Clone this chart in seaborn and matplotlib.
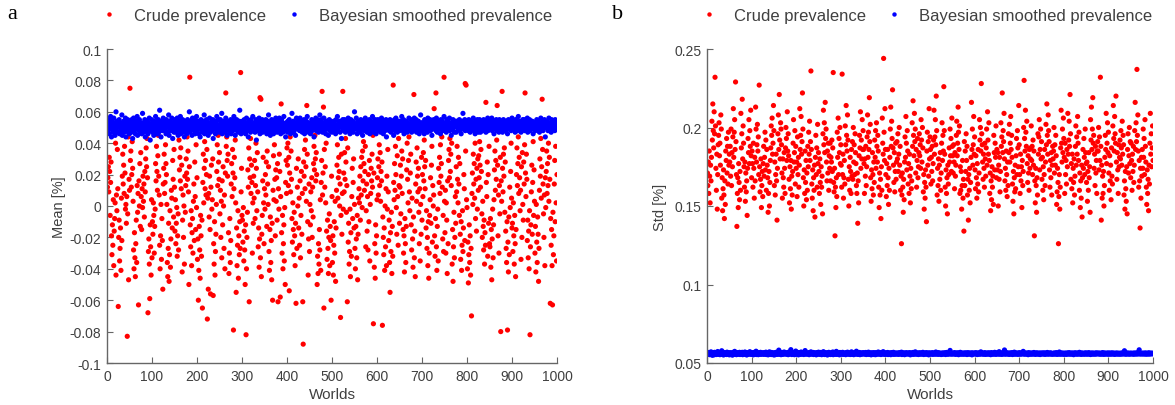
import numpy as np
import pandas as pd
import seaborn as sns
import matplotlib.pyplot as plt

# values (estimated), one per world
# crude mean, in units of 0.001 %
crude_mean = [
    12, 18, 25, 9, 31, 22, -6, 15, 28, -19, -31, -12, -25, 4, -38, -16, -8, 2, 40, -44, 7, -3, 36, 11, -64,
    -20, -9, -35, -27, -14, -41, 5, -22, 19, 33, 14, 26, 8, 38, 21, -2, 1, -11, 6, -83, -5, 44, -47, 17, 10,
    75, 29, 35, 12, 20, 41, 24, 3, -28, -40, -17, -33, -45, -24, -9, -36, 13, -4, 8, -63, 16, 0, 27, -13, 34,
    6, -15, 11, -1, 19, 3, 14, -7, 22, 9, 30, 37, 25, 43, 18, -68, -29, -21, -37, -59, -12, -26, -44, 4, -33,
    -10, -18, 2, -6, -30, -13, -2, 27, 16, 38, 22, 10, 32, 45, 19, 7, -25, -40, -19, 1, -34, -8, -22, -53, 14,
    24, 33, 8, 15, 39, 27, 20, 1, -36, -45, -27, -11, -48, -31, -3, -39, -21, 10, 5, -14, 29, 17, -7, 36, 12,
    -16, 4, -24, -11, -1, -32, -19, -5, -28, 42, 23, 31, 16, 37, 11, 26, -42, -9, 7, -20, 0, -37, 19, -4, 13,
    30, 21, 44, 17, 35, 9, -50, 25, 82, -12, -26, -3, -38, -17, -8, -30, 3, 14, -22, 28, 6, -15, 39, -1, 18,
    -34, -21, -60, -41, -13, -28, -46, -6, -19, -32, -9, -65, 15, 33, 2, 24, 41, 11, 29, 7, 20, 36, -72, 5, -53,
    8, -7, 19, -15, -56, 12, 26, -2, 4, 30, -57, -24, -37, -10, -44, -29, -18, 1, 22, 39, 13, 45, 28, 17, 34,
    -5, 10, -20, 3, -33, 16, -12, 25, 0, -27, 7, -40, 21, 72, 38, 44, 29, 19, 33, -17, -43, -30, -8, -36, -22,
    14, 27, 6, 36, 21, -79, 11, 31, 18, 42, 2, -55, -14, -38, -25, -3, -46, -19, -31, -10, -27, 85, 9, 24, -6,
    -9, -23, -1, -35, -16, -28, -50, -12, -82, -40, -20, -4, 23, 12, 37, -61, 30, 18, 43, 8, 26, 15, -30, 2, -11,
    19, 5, 29, -8, 13, 40, 24, -3, 34, 9, -26, -14, -39, -21, 69, -33, 68, -45, -18, -6, 16, 31, 2, -24, 11,
    -2, 20, 7, 28, -13, 35, 14, 1, 25, -29, -41, -15, -7, -36, -22, -47, -11, -60, 10, 32, 4, 39, 17, -19, 23,
    3, 18, -9, 27, -61, 11, -2, 33, 22, -58, 6, 65, -17, -30, -6, -40, -24, -12, -35, -1, -50, 15, 29, 8, 37,
    26, 40, 13, 31, -54, 21, 44, 9, 35, 17, -8, -23, 2, -15, -31, -4, -19, -38, -11, -62, 24, -27, 12, 0, 30,
    -14, 5, -25, 16, -33, -6, 22, -18, 8, -61, -88, 28, 19, 36, 11, 42, 25, 3, 64, 33, -10, -44, -21, 14, -29,
    1, -12, 9, -3, 18, -20, 12, -7, 27, 38, 23, 45, 30, 16, 34, 20, -50, -32, -43, -24, -37, -15, -28, 4, -41,
    15, 29, 73, 7, 21, 63, -65, 36, 12, 25, 2, 40, -16, -34, -9, -27, -43, -20, -5, -38, -13, -22, -60, 19, 6,
    -36, -19, -44, -25, -10, -30, 3, -48, -14, 10, 26, 39, 5, 18, 31, 22, 0, 14, -71, -6, 33, -18, 8, 73, -2,
    21, 9, 34, 17, 43, 28, -4, 13, -61, 37, -23, -11, -37, -29, -2, -45, -17, -32, 6, 24, -8, 15, 30, -14, 1,
    -27, -40, -13, -21, -33, -6, -47, -18, 5, 11, 2, 19, -9, 25, 7, 31, -1, 35, 16, 41, 27, 10, 22, 38, -26,
    -3, 14, -16, 6, -28, 20, -10, 29, -35, 1, 8, 24, 16, 33, 12, 45, -75, 21, -39, -24, -46, -12, -30, -19, 4,
    18, 30, 7, 25, 39, 13, 34, 3, 22, 16, 28, -76, -7, -20, -31, -14, -41, 0, -26, 11, -38, 19, -2, 36, 9,
    -22, -9, -36, -55, -17, -29, -4, -43, -13, -32, 77, 15, 4, 27, 10, 38, 20, -1, -18, 32, 6, -25, 43, 13, -11,
    12, 26, -5, 19, 35, 8, 30, -15, -30, -19, -42, -8, -24, -36, -13, 23, 40, 17, 2, 29, 44, 9, -3, 21, 33,
    -12, -28, 5, -21, -39, -7, 71, -33, -16, -45, 14, 28, 3, 37, 19, 9, 24, -4, -24, 11, -35, 1, -18, 31, -9,
    20, 6, 34, 16, 42, 25, 11, 29, -14, -3, -27, -20, -38, -10, -46, -30, -6, 4, 18, -11, 26, 38, -23, 13, 0,
    7, 62, -19, -32, -8, 72, -26, -41, -13, -2, -35, 24, 15, 31, 8, 39, 19, 27, 44, 12, -21, -6, -29, 82, 3,
    -17, 10, -30, 2, -9, -43, 16, -24, 29, 36, 18, 43, 22, 33, 13, 40, -37, -15, -48, -26, -4, -33, -20, 6, -11,
    25, 9, 38, 17, 2, 31, 14, -6, 27, -18, -34, -10, -41, -25, -3, -29, -14, 20, 11, -22, 78, 35, 77, 4, -1,
    -40, -23, -49, -31, -12, -36, -19, -44, -27, -70, 8, 21, 1, 33, 14, 27, 5, 40, -8, 17, -16, 24, -2, 30, 10,
    32, 18, 41, 26, 12, 36, 22, -5, -20, 3, -13, -28, -9, -37, -17, -25, 66, 15, 6, 28, -32, 20, -11, 38, -24,
    -26, -8, -39, -15, -47, -21, -2, -33, -12, 4, 23, 35, 10, 29, 17, 42, 64, 26, -19, 7, -30, 13, -5, 31, -80,
    16, 3, 73, 24, 9, 33, 19, 37, -4, 28, -16, -27, -36, -10, -79, -23, -42, -7, -31, 12, -1, 22, 40, 5, -14,
    -11, -29, 2, -19, -37, -6, -24, -45, -15, 20, 37, 13, 27, 44, 8, 31, 18, -3, 10, -34, 25, -20, 34, 1, -9,
    28, 14, 39, 72, 21, 6, 33, 17, -22, -9, -33, -16, -40, -3, -82, -26, -12, 9, 26, -18, 15, 41, -6, 23, 3,
    -30, -13, -42, 1, -23, -36, -7, -18, -48, -27, 10, 30, 19, 43, 5, 25, 68, 36, 14, -5, -20, 7, -38, 18, -1,
    22, 35, 8, 27, 13, 40, 3, 31, 17, -62, -8, -25, -15, -38, -63, -4, -31, -19, 14, 29, -10, 38, 2, -35, 20,
]

# Bayesian smoothed mean, in units of 0.001 %
bayes_mean = [
    52, 48, 55, 50, 46, 53, 51, 57, 49, 44, 54, 50, 47, 52, 56, 49, 53, 45, 51, 60, 48, 54, 50, 47, 53,
    51, 55, 46, 50, 53, 48, 52, 58, 45, 51, 49, 54, 47, 52, 50, 56, 44, 53, 49, 51, 55, 47, 50, 52, 46,
    54, 49, 51, 47, 55, 50, 43, 52, 56, 48, 53, 51, 46, 50, 54, 49, 57, 45, 52, 50, 48, 55, 51, 47, 53,
    50, 46, 52, 59, 49, 53, 47, 51, 55, 44, 50, 52, 48, 54, 51, 46, 53, 49, 56, 50, 42, 52, 48, 55, 51,
    47, 53, 50, 45, 54, 52, 49, 57, 48, 51, 53, 46, 50, 55, 47, 52, 61, 49, 51, 44, 54, 50, 48, 53, 56,
    49, 51, 54, 48, 52, 46, 55, 50, 53, 47, 51, 58, 45, 52, 49, 54, 50, 48, 56, 51, 43, 53, 50, 47, 52,
    55, 50, 47, 53, 49, 56, 51, 45, 52, 54, 48, 50, 57, 46, 53, 51, 49, 55, 47, 52, 50, 44, 54, 51, 48,
    52, 46, 50, 55, 51, 48, 53, 60, 47, 50, 54, 49, 52, 45, 56, 50, 53, 48, 51, 55, 46, 52, 49, 57, 50,
    48, 54, 51, 46, 53, 50, 44, 52, 55, 49, 51, 47, 54, 50, 52, 58, 46, 53, 49, 51, 55, 48, 50, 53, 45,
    53, 49, 56, 51, 47, 52, 50, 54, 48, 55, 43, 51, 53, 49, 50, 46, 54, 52, 57, 48, 51, 50, 55, 47, 52,
    50, 55, 48, 52, 59, 46, 51, 53, 49, 50, 54, 47, 52, 56, 48, 51, 45, 53, 50, 49, 54, 52, 47, 51, 55,
    46, 52, 50, 54, 48, 51, 57, 49, 53, 45, 52, 50, 55, 48, 51, 53, 47, 50, 54, 61, 49, 52, 46, 53, 50,
    54, 47, 52, 49, 55, 50, 53, 46, 51, 56, 48, 52, 50, 44, 54, 51, 49, 53, 47, 55, 50, 52, 48, 57, 51,
    49, 53, 51, 47, 50, 55, 42, 52, 48, 54, 51, 49, 56, 50, 46, 53, 51, 48, 52, 55, 47, 50, 54, 49, 53,
    51, 48, 55, 52, 46, 50, 54, 49, 58, 47, 53, 51, 45, 52, 50, 55, 48, 53, 51, 46, 54, 50, 52, 48, 56,
    52, 50, 47, 54, 51, 49, 53, 56, 48, 51, 46, 52, 55, 50, 53, 47, 51, 57, 49, 52, 50, 44, 53, 51, 48,
    47, 54, 50, 52, 55, 48, 51, 46, 53, 50, 59, 49, 52, 54, 47, 51, 50, 53, 45, 52, 56, 49, 51, 54, 50,
    53, 51, 48, 56, 49, 52, 50, 54, 47, 53, 51, 49, 55, 46, 52, 50, 48, 54, 51, 57, 49, 53, 47, 50, 52,
    50, 46, 53, 51, 55, 48, 52, 49, 54, 44, 51, 53, 50, 56, 48, 52, 49, 55, 51, 47, 53, 50, 58, 48, 51,
    55, 49, 51, 47, 53, 50, 56, 48, 52, 51, 46, 54, 49, 53, 50, 52, 45, 51, 55, 48, 50, 54, 52, 49, 47,
    51, 53, 49, 54, 48, 52, 50, 46, 55, 51, 49, 57, 52, 48, 53, 50, 54, 47, 51, 52, 43, 53, 50, 55, 49,
    48, 52, 55, 50, 47, 53, 51, 54, 49, 52, 56, 48, 50, 53, 46, 51, 55, 49, 52, 50, 54, 47, 53, 51, 60,
    52, 49, 51, 56, 50, 46, 54, 52, 48, 51, 53, 50, 47, 55, 51, 49, 53, 45, 50, 54, 52, 48, 51, 56, 50,
    54, 50, 47, 52, 53, 49, 51, 55, 46, 50, 52, 54, 48, 51, 57, 50, 47, 53, 49, 52, 55, 51, 46, 53, 49,
    49, 55, 52, 48, 51, 54, 50, 47, 53, 56, 49, 51, 52, 46, 54, 50, 53, 48, 51, 55, 44, 52, 50, 54, 51,
    53, 48, 50, 55, 52, 47, 51, 53, 49, 54, 50, 45, 52, 55, 48, 51, 56, 50, 53, 47, 51, 49, 54, 52, 48,
    50, 54, 51, 49, 57, 52, 48, 50, 55, 46, 53, 51, 49, 52, 54, 50, 47, 53, 51, 48, 56, 50, 52, 49, 55,
    52, 47, 54, 51, 50, 53, 49, 56, 48, 52, 51, 55, 47, 50, 53, 49, 54, 51, 46, 52, 50, 58, 48, 53, 51,
    48, 53, 50, 52, 46, 55, 51, 49, 54, 50, 52, 47, 56, 51, 49, 53, 50, 55, 48, 52, 51, 45, 54, 50, 53,
    55, 51, 49, 53, 50, 48, 56, 52, 47, 51, 54, 50, 53, 49, 52, 46, 55, 51, 50, 54, 48, 52, 50, 57, 49,
    51, 49, 53, 47, 55, 52, 50, 54, 49, 51, 56, 48, 52, 50, 45, 53, 51, 49, 55, 52, 50, 47, 54, 51, 53,
    47, 54, 52, 50, 53, 49, 51, 55, 48, 52, 50, 46, 54, 51, 53, 59, 49, 52, 50, 55, 48, 51, 53, 49, 52,
    53, 50, 48, 55, 51, 52, 47, 53, 50, 54, 49, 52, 51, 56, 48, 50, 53, 46, 52, 54, 51, 49, 55, 50, 47,
    50, 52, 55, 49, 47, 53, 51, 50, 54, 48, 52, 55, 50, 49, 53, 51, 47, 54, 52, 50, 56, 48, 51, 53, 49,
    54, 49, 51, 52, 56, 48, 50, 53, 51, 46, 54, 50, 52, 49, 55, 51, 48, 53, 50, 52, 47, 55, 51, 49, 54,
    49, 53, 50, 47, 52, 55, 51, 49, 53, 50, 48, 54, 51, 52, 46, 50, 55, 49, 53, 51, 54, 50, 48, 52, 56,
    52, 50, 54, 51, 49, 53, 47, 55, 50, 52, 51, 48, 53, 57, 49, 51, 54, 50, 52, 47, 53, 51, 49, 55, 50,
    51, 55, 48, 52, 50, 54, 51, 49, 56, 47, 53, 50, 52, 55, 48, 51, 53, 49, 50, 54, 52, 46, 51, 53, 50,
    53, 48, 52, 50, 55, 51, 49, 54, 52, 50, 47, 53, 51, 56, 49, 52, 50, 54, 48, 53, 51, 55, 50, 44, 52,
    50, 54, 51, 53, 48, 52, 56, 50, 49, 53, 51, 47, 55, 52, 50, 54, 49, 51, 53, 48, 55, 52, 50, 54, 51,
]

# crude std, in units of 0.001 %
crude_std = [
    171, 163, 178, 158, 185, 169, 152, 176, 166, 181, 204, 192, 215, 198, 187, 210, 196, 232, 201, 174, 160, 183, 148, 170, 189,
    195, 203, 182, 190, 176, 208, 199, 155, 168, 147, 161, 173, 157, 142, 166, 151, 185, 179, 193, 171, 188, 164, 197, 176, 183,
    178, 188, 169, 199, 163, 184, 175, 194, 212, 181, 197, 205, 186, 229, 191, 170, 137, 158, 168, 149, 177, 165, 154, 172, 160,
    209, 187, 196, 218, 180, 201, 190, 175, 162, 178, 153, 171, 159, 166, 144, 174, 193, 184, 205, 177, 198, 188, 211, 182, 168,
    185, 177, 162, 190, 174, 155, 181, 166, 213, 199, 178, 189, 202, 185, 194, 170, 227, 175, 159, 167, 180, 149, 163, 172, 156,
    177, 188, 169, 181, 197, 173, 192, 160, 186, 176, 168, 146, 158, 172, 150, 165, 179, 187, 201, 195, 206, 183, 190, 214, 198,
    163, 178, 157, 170, 183, 166, 141, 174, 196, 208, 186, 221, 192, 180, 203, 199, 189, 171, 155, 180, 168, 162, 184, 174, 158,
    187, 200, 193, 179, 210, 185, 196, 182, 167, 152, 175, 161, 179, 148, 169, 157, 172, 190, 205, 178, 184, 198, 164, 188, 174,
    178, 156, 194, 170, 181, 162, 176, 212, 186, 195, 207, 183, 191, 222, 199, 168, 150, 173, 158, 185, 165, 179, 154, 171, 160,
    188, 175, 197, 183, 204, 179, 191, 236, 186, 164, 155, 173, 147, 168, 160, 176, 143, 181, 195, 170, 187, 162, 202, 177, 184,
    172, 158, 180, 165, 151, 175, 162, 169, 145, 196, 211, 189, 203, 184, 216, 193, 199, 178, 166, 185, 171, 190, 160, 182, 174,
    190, 166, 181, 178, 192, 172, 187, 235, 165, 159, 174, 131, 162, 149, 168, 156, 197, 181, 206, 170, 193, 184, 200, 177, 189,
    176, 162, 234, 170, 183, 155, 168, 179, 164, 201, 189, 214, 195, 185, 208, 192, 167, 150, 175, 160, 181, 172, 158, 186, 169,
    191, 167, 200, 178, 189, 170, 196, 184, 177, 163, 158, 171, 139, 166, 152, 182, 195, 187, 210, 174, 192, 180, 205, 186, 198,
    186, 177, 158, 180, 169, 188, 163, 175, 194, 208, 181, 197, 186, 219, 191, 202, 168, 153, 173, 161, 184, 170, 157, 178, 165,
    192, 181, 198, 174, 203, 188, 178, 195, 185, 162, 149, 171, 157, 167, 142, 175, 160, 206, 190, 183, 244, 197, 179, 212, 186,
    170, 156, 177, 163, 186, 168, 151, 174, 160, 181, 199, 213, 188, 204, 193, 224, 187, 176, 165, 184, 159, 172, 190, 167, 178,
    191, 180, 196, 172, 183, 200, 176, 188, 160, 169, 126, 157, 171, 162, 146, 167, 154, 178, 194, 181, 207, 190, 173, 198, 185,
    164, 177, 158, 183, 169, 152, 174, 161, 166, 203, 188, 217, 195, 182, 209, 191, 199, 171, 186, 162, 179, 193, 168, 175, 184,
    196, 182, 189, 174, 205, 192, 178, 200, 187, 159, 170, 148, 165, 155, 173, 162, 140, 185, 197, 176, 191, 169, 212, 180, 194,
    186, 164, 181, 172, 188, 166, 177, 192, 211, 183, 194, 205, 189, 220, 198, 157, 174, 163, 180, 153, 176, 167, 184, 160, 171,
    190, 203, 179, 195, 185, 226, 198, 183, 162, 150, 173, 158, 168, 145, 176, 164, 170, 187, 178, 199, 182, 193, 172, 206, 188,
    182, 171, 189, 178, 161, 184, 169, 176, 195, 204, 182, 190, 213, 197, 186, 201, 158, 175, 160, 172, 148, 163, 179, 155, 167,
    134, 191, 163, 185, 172, 196, 179, 188, 157, 167, 141, 170, 160, 174, 152, 165, 181, 216, 186, 199, 176, 189, 207, 183, 194,
    173, 161, 182, 168, 155, 177, 164, 186, 159, 171, 205, 192, 200, 185, 228, 196, 189, 178, 167, 183, 174, 162, 190, 180, 169,
    187, 199, 176, 210, 192, 183, 203, 179, 158, 171, 147, 166, 154, 175, 162, 169, 151, 195, 184, 173, 190, 181, 201, 168, 186,
    173, 184, 150, 176, 167, 181, 159, 172, 203, 188, 194, 222, 184, 198, 191, 209, 180, 166, 174, 160, 185, 170, 156, 178, 163,
    196, 184, 202, 178, 190, 207, 186, 195, 181, 164, 153, 172, 145, 168, 159, 176, 161, 182, 193, 170, 198, 187, 175, 214, 189,
    170, 158, 183, 166, 175, 149, 179, 163, 172, 200, 230, 193, 185, 211, 197, 188, 204, 177, 165, 182, 171, 160, 186, 174, 180,
    187, 201, 179, 188, 170, 192, 176, 185, 131, 166, 152, 174, 163, 146, 168, 157, 196, 183, 194, 205, 173, 186, 199, 180, 191,
    167, 181, 160, 175, 154, 170, 186, 163, 178, 202, 189, 215, 195, 183, 208, 198, 191, 173, 162, 179, 168, 184, 157, 176, 188,
    180, 185, 200, 171, 189, 176, 195, 182, 151, 159, 174, 165, 126, 156, 170, 148, 162, 187, 211, 190, 178, 199, 184, 206, 193,
    181, 158, 190, 170, 179, 164, 186, 175, 209, 183, 192, 204, 188, 221, 196, 167, 177, 161, 183, 152, 174, 165, 180, 157, 169,
    188, 201, 176, 194, 183, 207, 190, 179, 197, 160, 171, 149, 166, 155, 176, 143, 168, 186, 174, 193, 181, 170, 199, 184, 177,
    165, 178, 153, 172, 160, 184, 168, 175, 146, 205, 192, 213, 186, 199, 219, 190, 195, 174, 183, 163, 188, 171, 179, 158, 185,
    191, 185, 200, 173, 194, 179, 232, 188, 141, 176, 155, 169, 158, 172, 150, 163, 181, 195, 186, 209, 177, 190, 203, 184, 197,
    171, 160, 182, 166, 176, 154, 187, 169, 164, 201, 214, 193, 185, 207, 196, 190, 220, 178, 167, 184, 173, 158, 189, 175, 181,
    192, 180, 198, 187, 176, 204, 183, 195, 189, 157, 166, 148, 172, 161, 153, 175, 145, 186, 196, 171, 182, 200, 177, 191, 168,
    190, 179, 160, 183, 172, 188, 165, 176, 198, 216, 186, 203, 191, 237, 195, 208, 185, 162, 179, 166, 136, 174, 155, 181, 169,
    186, 174, 199, 181, 193, 170, 205, 188, 178, 162, 151, 173, 158, 167, 147, 176, 164, 190, 209, 183, 196, 175, 187, 201, 179,
]

# Bayesian smoothed std, in units of 0.0001 %
bayes_std = [
    558, 562, 555, 567, 560, 553, 564, 559, 571, 556, 561, 549, 566, 558, 563, 552, 568, 560, 557, 565, 554, 562, 559, 573, 556,
    561, 557, 564, 553, 566, 559, 562, 578, 555, 560, 563, 551, 567, 558, 561, 556, 564, 560, 554, 569, 557, 562, 559, 565, 552,
    560, 566, 554, 561, 558, 563, 550, 567, 557, 562, 559, 574, 555, 561, 564, 553, 560, 566, 558, 556, 563, 561, 568, 554, 559,
    563, 556, 561, 568, 553, 559, 565, 557, 562, 570, 555, 560, 563, 551, 566, 558, 562, 556, 564, 559, 572, 557, 561, 555, 566,
    557, 564, 559, 552, 567, 561, 556, 563, 558, 575, 554, 562, 560, 566, 553, 559, 564, 557, 562, 568, 555, 561, 558, 565, 560,
    562, 555, 566, 560, 557, 563, 569, 554, 561, 558, 565, 552, 562, 559, 571, 556, 563, 560, 554, 567, 558, 562, 557, 564, 551,
    559, 565, 553, 562, 568, 557, 561, 555, 564, 560, 582, 556, 563, 558, 566, 553, 561, 567, 559, 555, 564, 560, 570, 557, 562,
    564, 558, 561, 556, 566, 560, 553, 569, 559, 563, 557, 562, 585, 565, 554, 560, 567, 557, 562, 559, 553, 566, 561, 576, 558,
    556, 563, 559, 567, 552, 561, 565, 558, 562, 555, 570, 559, 564, 557, 561, 566, 554, 560, 563, 579, 558, 562, 556, 564, 560,
    561, 557, 566, 553, 562, 559, 564, 571, 556, 560, 563, 558, 567, 554, 561, 565, 557, 562, 559, 552, 566, 560, 563, 557, 569,
    558, 563, 555, 561, 567, 559, 553, 564, 560, 556, 572, 558, 562, 554, 566, 559, 561, 557, 565, 551, 563, 560, 568, 556, 562,
    560, 554, 565, 559, 562, 557, 570, 553, 561, 566, 558, 563, 556, 560, 574, 555, 562, 559, 565, 557, 561, 552, 567, 560, 558,
    563, 559, 556, 568, 561, 555, 564, 560, 557, 562, 553, 566, 559, 561, 569, 556, 563, 558, 560, 565, 554, 562, 559, 571, 557,
    556, 565, 560, 553, 563, 559, 566, 557, 561, 575, 558, 562, 555, 564, 560, 557, 567, 553, 561, 559, 564, 556, 562, 558, 566,
    562, 558, 564, 557, 560, 567, 554, 561, 559, 563, 556, 569, 560, 555, 562, 558, 565, 552, 561, 564, 557, 560, 566, 559, 554,
    559, 566, 553, 562, 558, 561, 564, 556, 570, 559, 563, 557, 560, 566, 554, 561, 558, 563, 560, 572, 556, 562, 559, 555, 565,
    561, 556, 563, 559, 567, 554, 560, 564, 557, 562, 558, 553, 566, 560, 563, 557, 561, 568, 555, 559, 564, 560, 556, 562, 558,
    564, 559, 557, 562, 555, 566, 561, 558, 563, 560, 569, 554, 562, 557, 561, 565, 559, 553, 563, 560, 557, 566, 561, 558, 562,
    557, 563, 560, 566, 558, 552, 564, 561, 556, 562, 559, 567, 555, 560, 563, 558, 571, 557, 561, 564, 556, 562, 559, 554, 565,
    560, 558, 565, 556, 562, 559, 563, 557, 568, 561, 554, 560, 564, 558, 562, 556, 566, 560, 557, 563, 559, 552, 565, 561, 558,
    563, 557, 561, 559, 566, 555, 562, 560, 557, 564, 561, 556, 570, 558, 563, 559, 562, 555, 566, 560, 557, 563, 559, 561, 554,
    558, 564, 556, 562, 560, 557, 565, 559, 563, 554, 561, 567, 558, 562, 556, 560, 564, 557, 561, 580, 559, 563, 556, 562, 560,
    561, 557, 563, 559, 566, 561, 555, 562, 558, 564, 560, 557, 565, 553, 561, 559, 563, 568, 556, 562, 558, 561, 557, 564, 559,
    556, 562, 559, 565, 557, 561, 563, 554, 560, 566, 558, 562, 557, 561, 564, 556, 559, 563, 552, 565, 560, 558, 562, 557, 563,
    562, 559, 566, 557, 561, 554, 563, 560, 558, 565, 556, 562, 559, 571, 557, 561, 564, 558, 560, 556, 563, 559, 566, 555, 561,
    559, 563, 556, 562, 558, 565, 560, 557, 564, 559, 553, 562, 566, 558, 561, 556, 563, 560, 557, 568, 559, 562, 555, 564, 560,
    564, 557, 561, 559, 572, 556, 562, 558, 563, 560, 555, 565, 559, 561, 557, 564, 583, 558, 562, 556, 561, 566, 559, 563, 557,
    558, 562, 555, 564, 560, 557, 563, 559, 566, 554, 561, 558, 562, 569, 556, 560, 563, 557, 564, 559, 561, 555, 562, 558, 566,
    561, 556, 563, 558, 560, 565, 557, 562, 574, 559, 563, 556, 561, 558, 564, 560, 557, 562, 559, 553, 566, 561, 558, 563, 557,
    557, 564, 559, 561, 556, 563, 560, 567, 558, 562, 555, 561, 559, 565, 557, 563, 560, 556, 562, 559, 564, 554, 561, 558, 563,
    563, 558, 561, 557, 565, 559, 562, 555, 560, 564, 558, 561, 567, 556, 562, 559, 563, 557, 560, 565, 558, 562, 556, 561, 559,
    556, 561, 564, 559, 557, 562, 558, 566, 560, 555, 563, 559, 561, 557, 570, 558, 562, 556, 564, 560, 557, 563, 559, 562, 555,
    560, 563, 557, 562, 559, 555, 564, 561, 558, 563, 557, 566, 559, 561, 556, 562, 558, 564, 560, 557, 563, 553, 561, 559, 565,
    562, 557, 560, 564, 556, 561, 559, 563, 557, 568, 560, 558, 562, 555, 564, 559, 561, 557, 563, 560, 556, 562, 558, 565, 559,
    558, 563, 556, 561, 560, 566, 557, 562, 559, 554, 563, 560, 558, 564, 557, 561, 562, 556, 560, 563, 559, 557, 565, 558, 561,
    561, 559, 564, 557, 562, 558, 561, 556, 563, 560, 557, 566, 559, 562, 555, 561, 564, 558, 560, 557, 563, 559, 562, 556, 564,
    557, 562, 559, 563, 556, 561, 558, 565, 560, 557, 562, 559, 563, 555, 561, 560, 558, 564, 557, 562, 559, 561, 556, 563, 560,
    560, 556, 562, 558, 564, 559, 561, 557, 563, 560, 578, 558, 562, 556, 561, 559, 564, 557, 560, 563, 558, 561, 556, 562, 559,
    563, 559, 561, 557, 562, 560, 556, 564, 558, 561, 559, 563, 557, 560, 566, 558, 562, 559, 584, 561, 557, 563, 560, 558, 562,
    559, 562, 557, 563, 560, 558, 561, 564, 556, 562, 559, 561, 557, 563, 558, 565, 560, 557, 562, 559, 561, 563, 558, 560, 562,
]

CRUDE = "Crude prevalence"
BAYES = "Bayesian smoothed prevalence"
palette = {CRUDE: "#ff0000", BAYES: "#0000ff"}


def long_frame(crude, bayes):
    a = pd.DataFrame({"Worlds": np.arange(1, len(crude) + 1), "value": crude, "series": CRUDE})
    b = pd.DataFrame({"Worlds": np.arange(1, len(bayes) + 1), "value": bayes, "series": BAYES})
    return pd.concat([a, b], ignore_index=True)


df_a = long_frame(np.array(crude_mean) / 1000, np.array(bayes_mean) / 1000)
df_b = long_frame(np.array(crude_std) / 1000, np.array(bayes_std) / 10000)

sns.set_theme(style="ticks")
plt.rcParams["font.family"] = ["Liberation Sans", "DejaVu Sans"]
text_col = "#404040"
axis_col = "#666666"

W, H = 1175, 406
fig = plt.figure(figsize=(W / 100, H / 100), dpi=100)
ax_a = fig.add_axes([107 / W, 1 - 364 / H, 450 / W, 314 / H])
ax_b = fig.add_axes([707 / W, 1 - 364 / H, 446 / W, 314 / H])

panels = [
    (ax_a, df_a, (-0.1, 0.1), np.arange(-0.1, 0.1001, 0.02), "Mean [%]", "a", 7, 0.488, -0.09),
    (ax_b, df_b, (0.05, 0.25), np.arange(0.05, 0.2501, 0.05), "Std [%]", "b", 612, 0.492, -0.09),
]

for ax, df, ylim, yticks, ylabel, letter, lx, leg_x, ylab_x in panels:
    sns.scatterplot(data=df, x="Worlds", y="value", hue="series", palette=palette,
                    s=14, linewidth=0, alpha=1, ax=ax)
    ax.set_xlim(0, 1000)
    ax.set_ylim(*ylim)
    ax.set_xticks(np.arange(0, 1001, 100))
    ax.set_yticks(yticks)
    ax.set_yticklabels([f"{t:g}" for t in np.round(yticks, 2)])
    sns.despine(ax=ax)
    for side in ["left", "bottom"]:
        ax.spines[side].set_color(axis_col)
        ax.spines[side].set_linewidth(1.0)
    ax.tick_params(direction="in", length=4, width=0.8, color=axis_col,
                   labelcolor=text_col, labelsize=10, pad=4)
    ax.set_xlabel("Worlds", fontsize=11, color=text_col)
    ax.set_ylabel(ylabel, fontsize=10.5, color=text_col)
    ax.xaxis.set_label_coords(0.5, -0.075)
    ax.yaxis.set_label_coords(ylab_x, 0.5)
    sns.move_legend(ax, "center", bbox_to_anchor=(leg_x, 1.108), ncol=2, frameon=False,
                    title=None, fontsize=12, handletextpad=1.0, columnspacing=1.2,
                    handlelength=1.0, markerscale=0.85, labelcolor=text_col)
    fig.text(lx / W, 1 - 19 / H, letter, family=["Liberation Serif", "DejaVu Serif"],
             fontsize=16, va="baseline", ha="left", color="#000000")

fig.savefig("out.png", dpi=100)
